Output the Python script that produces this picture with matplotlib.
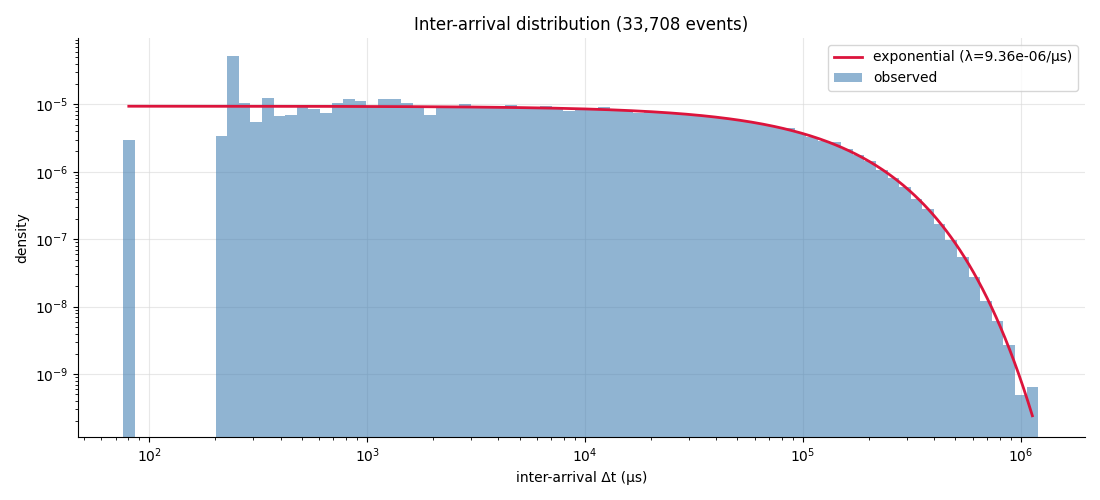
import numpy as np
import matplotlib
matplotlib.use("Agg")
import matplotlib.pyplot as plt

# histogram of inter-arrival times (log-spaced bins)
n_events = 33708
dt_min = 75.7
dt_max = 1.2e6
n_bins = 79
lam = 9.36e-06  # fitted rate, 1/us

density = [
    2.96e-6, 0, 0, 0, 0, 0, 0, 0,
    3.39e-6, 5.2e-5, 1.04e-5, 5.47e-6, 1.24e-5, 6.71e-6, 6.93e-6, 9.6e-6,
    8.5e-6, 7.4e-6, 1.04e-5, 1.2e-5, 1.12e-5, 9.3e-6, 1.2e-5, 1.2e-5,
    1.04e-5, 9.2e-6, 6.9e-6, 9.3e-6, 9.2e-6, 1.0e-5, 9.5e-6, 8.9e-6,
    9.0e-6, 9.8e-6, 8.8e-6, 8.9e-6, 9.4e-6, 8.7e-6, 7.9e-6, 8.3e-6,
    8.6e-6, 9.1e-6, 8.5e-6, 8.3e-6, 7.4e-6, 7.8e-6, 7.5e-6, 7.4e-6,
    7.1e-6, 6.9e-6, 6.7e-6, 6.3e-6, 6.0e-6, 5.7e-6, 5.3e-6, 4.9e-6,
    4.6e-6, 4.45e-6, 3.8e-6, 3.3e-6, 2.9e-6, 2.8e-6, 2.15e-6, 1.77e-6,
    1.45e-6, 1.06e-6, 8.2e-7, 5.9e-7, 4.0e-7, 2.8e-7, 1.69e-7, 9.8e-8,
    5.5e-8, 2.75e-8, 1.22e-8, 6.2e-9, 2.7e-9, 4.9e-10, 6.5e-10,
]

edges = np.logspace(np.log10(dt_min), np.log10(dt_max), n_bins + 1)
centers = np.sqrt(edges[:-1] * edges[1:])
widths = np.diff(edges)
density = np.array(density)
keep = density > 0

fig, ax = plt.subplots(figsize=(11, 5), dpi=100)
fig.subplots_adjust(left=0.071, right=0.986, top=0.924, bottom=0.126)

ax.bar(edges[:-1][keep], density[keep], width=widths[keep], align="edge",
       color="steelblue", alpha=0.6, label="observed")

t = np.logspace(np.log10(centers[0]), np.log10(centers[-1]), 400)
ax.plot(t, lam * np.exp(-lam * t), color="crimson", lw=2,
        label=f"exponential (λ={lam:.2e}/µs)")

ax.set_xscale("log")
ax.set_yscale("log")
ax.set_xlim(47.1, 1.96e6)
ax.set_ylim(1.17e-10, 9.6e-5)
ax.grid(True, color="0.85", alpha=0.6, lw=0.8)
ax.set_axisbelow(True)
ax.spines["top"].set_visible(False)
ax.spines["right"].set_visible(False)

ax.set_xlabel("inter-arrival Δt (µs)")
ax.set_ylabel("density")
ax.set_title(f"Inter-arrival distribution ({n_events:,} events)")
ax.legend(loc="upper right")

fig.savefig("out.png")
